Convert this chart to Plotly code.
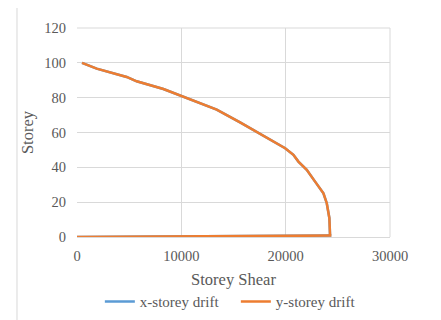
import plotly.graph_objects as go

# y-storey drift: storey shear vs storey
shear_y = [0, 24260, 24260, 24190, 23940, 23620, 22820, 22020, 21220, 20740, 19950,
           18830, 17230, 15630, 13390, 10510, 10030, 8280, 5720, 4763, 1889, 480]
storey_y = [0, 0.8, 0.2, 10.8, 19.4, 25.1, 31.8, 38.6, 43.3, 47.2, 51.0,
            54.9, 60.6, 65.8, 73.1, 79.8, 80.7, 85.0, 89.4, 91.9, 96.7, 100]
# x-storey drift (hidden beneath the orange series)
shear_x = shear_y
storey_x = storey_y

x_ticks = [0, 10000, 20000, 30000]
x_tick_labels = ["0", "10000", "20000", "30000"]
y_ticks = [0, 20, 40, 60, 80, 100, 120]

font = "Liberation Serif"
grey = "#595959"
grid = "#d9d9d9"

fig = go.Figure()
fig.add_trace(go.Scatter(x=shear_x, y=storey_x, mode="lines", name="x-storey drift",
                         line=dict(color="#5B9BD5", width=2.5)))
fig.add_trace(go.Scatter(x=shear_y, y=storey_y, mode="lines", name="y-storey drift",
                         line=dict(color="#ED7D31", width=2.5)))

fig.update_layout(
    width=441, height=320,
    margin=dict(l=69, r=59, t=20, b=91, autoexpand=False),
    paper_bgcolor="white", plot_bgcolor="white",
    font=dict(family=font, color=grey, size=14),
    showlegend=True,
    legend=dict(orientation="h", x=0.073, xanchor="left", y=-0.31, yanchor="middle",
                font=dict(family=font, size=15, color=grey), itemwidth=30,
                entrywidth=91, entrywidthmode="pixels",
                bgcolor="rgba(0,0,0,0)"),
    xaxis=dict(range=[0, 30000], tickvals=x_ticks, ticktext=x_tick_labels,
               showgrid=True, gridcolor=grid, automargin=False,
               gridwidth=1, zeroline=False, showline=True, linecolor=grid,
               ticks="", tickfont=dict(family=font, size=14.5, color=grey), ticklabelstandoff=6,
               title=dict(text="Storey Shear", font=dict(family=font, size=16.5, color=grey), standoff=10)),
    yaxis=dict(range=[0, 120], tickvals=y_ticks, showgrid=True, gridcolor=grid,
               gridwidth=1, zeroline=False, showline=False, automargin=False,
               ticks="", tickfont=dict(family=font, size=14.5, color=grey), ticklabelstandoff=10,
               title=dict(text="Storey", font=dict(family=font, size=16.5, color=grey), standoff=6)),
    shapes=[dict(type="rect", xref="paper", yref="paper",
                 x0=-0.1917, x1=1.150, y0=-0.43, y1=1.16,
                 line=dict(color=grid, width=1), layer="below")],
)
fig.add_shape(type="line", xref="paper", yref="paper", x0=1, x1=1, y0=0, y1=1,
              line=dict(color=grid, width=1), layer="below")
fig.add_shape(type="line", xref="paper", yref="paper", x0=0, x1=1, y0=1, y1=1,
              line=dict(color=grid, width=1), layer="below")

fig.write_html("out.html")
